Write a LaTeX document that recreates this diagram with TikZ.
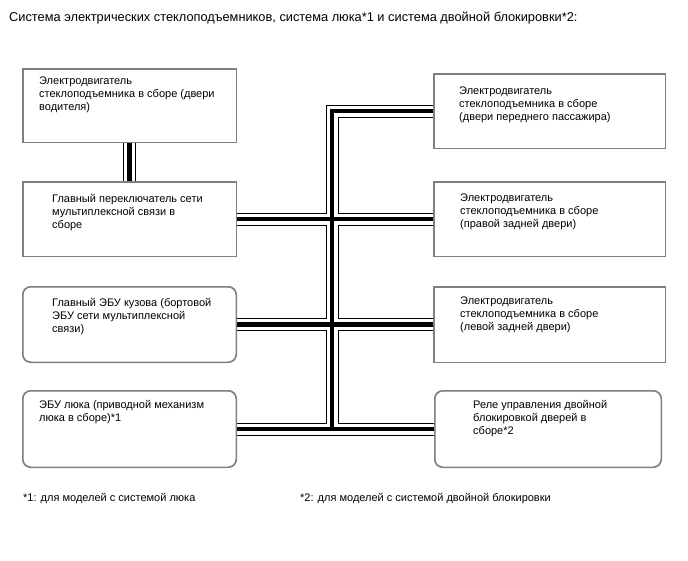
\documentclass[tikz,border=0pt]{standalone}
\usepackage{fontspec}
\setmainfont{Liberation Sans}
\begin{document}
\begin{tikzpicture}[x=1pt,y=-1pt,
  box/.style={draw=black!50,line width=1pt,fill=white,minimum width=213pt,minimum height=74pt,inner sep=0pt},
  rbox/.style={box,rounded corners=8pt},
  txt/.style={anchor=north west,inner sep=0pt,align=left,font=\fontsize{11}{13}\selectfont},
  cabO/.style={line width=13pt,black,line join=miter},
  cabW/.style={line width=11pt,white,line join=miter},
  cabC/.style={line width=4.5pt,black,line join=miter}]
\useasboundingbox (0,0) rectangle (688,560);
% boxes (nodes)
\node[box,minimum height=73pt] (l1) at (129.5,105.5) {};
\node[box] (l2) at (129.5,219) {};
\node[rbox,minimum height=75pt] (l3) at (129.5,324.5) {};
\node[rbox,minimum height=76pt] (l4) at (129.5,429) {};
\node[box,minimum width=231pt] (r1) at (549.5,111) {};
\node[box,minimum width=231pt] (r2) at (549.5,219) {};
\node[box,minimum width=231pt,minimum height=75pt] (r3) at (549.5,324.5) {};
\node[rbox,minimum width=226pt,minimum height=76pt] (r4) at (548,429) {};
\coordinate (tc) at (332,111);
\coordinate (tb) at (332,429);
% cables: outer, white, center
\foreach \s in {cabO,cabW,cabC}{
  \draw[\s] (l1.south) -- (l2.north);
  \draw[\s] (r1.west) -- (tc) -- (tb);
  \draw[\s] (l2.east) -- (r2.west);
  \draw[\s] (l3.east) -- (r3.west);
  \draw[\s] (l4.east) -- (r4.west);
}
% redraw box borders over cable ends
\foreach \n in {l1,l2,r1,r2,r3}{\draw[draw=black!50,line width=1pt] (\n.north west) rectangle (\n.south east);}
\foreach \n in {l3,l4,r4}{\draw[draw=black!50,line width=1pt,rounded corners=8pt] (\n.north west) rectangle (\n.south east);}
% texts
\node[txt,font=\fontsize{12.8}{15}\selectfont] (t0) at (9,12) {Система электрических стеклоподъемников, система люка*1 и система двойной блокировки*2:};
\node[txt] (tl1) at (39,77) {Электродвигатель\\стеклоподъемника в сборе (двери\\водителя)};
\node[txt] (tl2) at (52,194) {Главный переключатель сети\\мультиплексной связи в\\сборе};
\node[txt] (tl3) at (52,298) {Главный ЭБУ кузова (бортовой\\ЭБУ сети мультиплексной\\связи)};
\node[txt] (tl4) at (39,400) {ЭБУ люка (приводной механизм\\люка в сборе)*1};
\node[txt] (tr1) at (459,87) {Электродвигатель\\стеклоподъемника в сборе\\(двери переднего пассажира)};
\node[txt] (tr2) at (460,194) {Электродвигатель\\стеклоподъемника в сборе\\(правой задней двери)};
\node[txt] (tr3) at (460,297) {Электродвигатель\\стеклоподъемника в сборе\\(левой задней двери)};
\node[txt] (tr4) at (473,400) {Реле управления двойной\\блокировкой дверей в\\сборе*2};
\node[txt] (f1) at (23,493) {*1: для моделей с системой люка};
\node[txt] (f2) at (300,493) {*2: для моделей с системой двойной блокировки};
\end{tikzpicture}
\end{document}
